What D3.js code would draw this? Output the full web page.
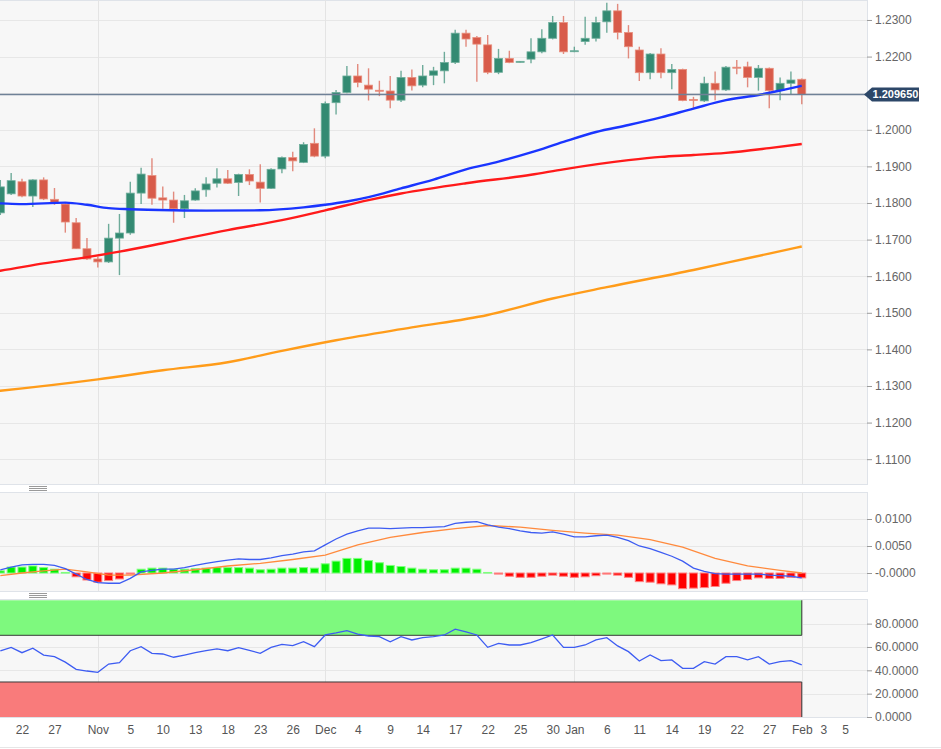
<!DOCTYPE html>
<html><head><meta charset="utf-8">
<script src="https://cdn.jsdelivr.net/npm/d3@7"></script>
<style>
body{margin:0;background:#fff;}
svg{display:block;font-family:"Liberation Sans",Arial,sans-serif;}
</style>
</head><body>
<svg id="c" width="941" height="749"></svg>
<script>
// ---------------- DATA ----------------
const dates = [
"2020-10-20","2020-10-21","2020-10-22","2020-10-23","2020-10-26","2020-10-27","2020-10-28","2020-10-29","2020-10-30",
"2020-11-02","2020-11-03","2020-11-04","2020-11-05","2020-11-06","2020-11-09","2020-11-10","2020-11-11","2020-11-12","2020-11-13",
"2020-11-16","2020-11-17","2020-11-18","2020-11-19","2020-11-20","2020-11-23","2020-11-24","2020-11-25","2020-11-26","2020-11-27","2020-11-30",
"2020-12-01","2020-12-02","2020-12-03","2020-12-04","2020-12-07","2020-12-08","2020-12-09","2020-12-10","2020-12-11",
"2020-12-14","2020-12-15","2020-12-16","2020-12-17","2020-12-18","2020-12-21","2020-12-22","2020-12-23","2020-12-24","2020-12-25",
"2020-12-28","2020-12-29","2020-12-30","2020-12-31","2021-01-01",
"2021-01-04","2021-01-05","2021-01-06","2021-01-07","2021-01-08","2021-01-11","2021-01-12","2021-01-13","2021-01-14","2021-01-15",
"2021-01-18","2021-01-19","2021-01-20","2021-01-21","2021-01-22","2021-01-25","2021-01-26","2021-01-27","2021-01-28","2021-01-29",
"2021-02-01"];
const axisDates = ["2020-10-19"].concat(dates, ["2021-02-02","2021-02-03","2021-02-04","2021-02-05"]);

const openP = [1.1773,1.1825,1.1858,1.1819,1.1863,1.1810,1.1797,1.1746,1.1675,
1.1647,1.1639,1.1704,1.1718,1.1827,1.1875,1.1814,1.1808,1.1784,1.1808,
1.1836,1.1854,1.1866,1.1856,1.1878,1.1857,1.1840,1.1893,1.1924,1.1911,1.1963,
1.1928,1.2074,1.2102,1.2147,1.2122,1.2108,1.2106,1.2081,1.2143,
1.2122,1.2149,1.2161,1.2184,1.2264,1.2252,1.2232,1.2157,1.2195,1.2185,
1.2193,1.2213,1.2250,1.2293,1.2214,
1.2241,1.2250,1.2295,1.2325,1.2266,1.2218,1.2156,1.2207,1.2156,1.2165,
1.2083,1.2079,1.2127,1.2109,1.2171,1.2172,1.2143,1.2168,1.2107,1.2127,
1.2138];
const highP = [1.1863,1.1882,1.1866,1.1865,1.1870,1.1841,1.1800,1.1759,1.1704,
1.1653,1.1743,1.1770,1.1858,1.1896,1.1922,1.1845,1.1831,1.1822,1.1840,
1.1870,1.1895,1.1890,1.1880,1.1892,1.1906,1.1895,1.1927,1.1940,1.1966,1.2004,
1.2077,1.2109,1.2174,1.2180,1.2168,1.2134,1.2147,1.2161,1.2165,
1.2177,1.2172,1.2213,1.2273,1.2273,1.2256,1.2259,1.2221,1.2216,1.2188,
1.2250,1.2275,1.2311,1.2311,1.2227,
1.2309,1.2309,1.2347,1.2344,1.2286,1.2227,1.2210,1.2223,1.2180,1.2167,
1.2090,1.2145,1.2159,1.2174,1.2191,1.2186,1.2177,1.2170,1.2143,1.2159,
1.2140];
const lowP = [1.1767,1.1822,1.1816,1.1789,1.1808,1.1795,1.1719,1.1674,1.1644,
1.1624,1.1636,1.1603,1.1713,1.1797,1.1795,1.1784,1.1746,1.1759,1.1806,
1.1817,1.1842,1.1852,1.1819,1.1849,1.1801,1.1838,1.1881,1.1887,1.1909,1.1925,
1.1922,1.2042,1.2100,1.2116,1.2080,1.2092,1.2059,1.2076,1.2107,
1.2116,1.2122,1.2127,1.2180,1.2227,1.2131,1.2152,1.2152,1.2182,1.2184,
1.2182,1.2209,1.2247,1.2207,1.2212,
1.2232,1.2241,1.2265,1.2247,1.2195,1.2133,1.2138,1.2141,1.2111,1.2078,
1.2056,1.2076,1.2081,1.2106,1.2152,1.2116,1.2107,1.2059,1.2081,1.2095,
1.2070];
const closeP = [1.1844,1.1861,1.1819,1.1863,1.1811,1.1799,1.1748,1.1675,1.1647,
1.1639,1.1704,1.1718,1.1827,1.1879,1.1813,1.1808,1.1784,1.1806,1.1833,
1.1852,1.1866,1.1854,1.1878,1.1860,1.1840,1.1892,1.1924,1.1915,1.1960,1.1928,
1.2072,1.2102,1.2147,1.2129,1.2111,1.2106,1.2081,1.2143,1.2120,
1.2147,1.2161,1.2184,1.2264,1.2248,1.2234,1.2157,1.2195,1.2184,1.2187,
1.2213,1.2250,1.2293,1.2213,1.2216,
1.2250,1.2293,1.2325,1.2266,1.2227,1.2156,1.2207,1.2156,1.2165,1.2080,
1.2080,1.2127,1.2109,1.2171,1.2169,1.2143,1.2168,1.2107,1.2127,1.2136,
1.20965];
const lastPrice = 1.20965;

// moving averages (values at sample dates)
const smaBlueDates = ["2020-10-19","2020-10-20","2020-10-22","2020-10-28","2020-10-30","2020-11-03","2020-11-05","2020-11-11","2020-11-16","2020-11-23","2020-11-27","2020-12-01","2020-12-03","2020-12-07","2020-12-10","2020-12-15","2020-12-18","2020-12-23","2020-12-28","2020-12-31","2021-01-05","2021-01-08","2021-01-13","2021-01-18","2021-01-21","2021-01-26","2021-01-28","2021-02-01"];
const smaBlueValues = [1.1800,1.1799,1.1797,1.1801,1.1795,1.1786,1.1783,1.1780,1.1779,1.1780,1.1788,1.1795,1.1804,1.1816,1.1840,1.1864,1.1892,1.1913,1.1938,1.1967,1.1994,1.2013,1.2034,1.2058,1.2081,1.2095,1.2107,1.2120];
const smaRedDates = ["2020-10-19","2020-10-20","2020-10-26","2020-10-30","2020-11-04","2020-11-10","2020-11-18","2020-11-25","2020-12-01","2020-12-07","2020-12-10","2020-12-18","2020-12-28","2020-12-31","2021-01-08","2021-01-13","2021-01-18","2021-01-21","2021-01-27","2021-02-01"];
const smaRedValues = [1.1611,1.1615,1.1635,1.1652,1.1667,1.1690,1.1726,1.1753,1.1780,1.1808,1.1826,1.1854,1.1877,1.1892,1.1917,1.1926,1.1931,1.1937,1.1950,1.1961];
const smaOrangeDates = ["2020-10-19","2020-10-20","2020-11-02","2020-11-10","2020-11-18","2020-11-25","2020-12-02","2020-12-11","2020-12-22","2020-12-30","2021-01-06","2021-01-18","2021-01-25","2021-02-01"];
const smaOrangeValues = [1.1284,1.1287,1.1318,1.1343,1.1365,1.1396,1.1425,1.1460,1.1494,1.1539,1.1570,1.1617,1.1649,1.1681];

// MACD
const macdHist = [0.0004,0.0011,0.0011,0.0013,0.0010,0.0007,0.0001,-0.0007,-0.0013,
-0.0017,-0.0014,-0.0011,-0.0002,0.0007,0.0009,0.0009,0.0007,0.0007,0.0008,
0.0009,0.0010,0.0010,0.0010,0.0009,0.0006,0.0007,0.0009,0.0009,0.0010,0.0009,
0.0017,0.0022,0.0027,0.0027,0.0023,0.0019,0.0014,0.0012,0.0009,
0.0007,0.0006,0.0006,0.0009,0.0009,0.0007,0.0001,-0.0002,-0.0006,-0.0008,
-0.0008,-0.0006,-0.0004,-0.0006,-0.0008,
-0.0007,-0.0005,-0.0002,-0.0004,-0.0008,-0.0016,-0.0017,-0.0020,-0.0022,-0.0029,
-0.0028,-0.0027,-0.0025,-0.0019,-0.0014,-0.0012,-0.0009,-0.0010,-0.0010,-0.0008,
-0.0009];
const macdLine = [0.0006,0.0011,0.0015,0.0016,0.0016,0.0014,0.0008,-0.0002,-0.0012,
-0.0018,-0.0019,-0.0019,-0.0010,0.0002,0.0005,0.0007,0.0007,0.0010,0.0014,
0.0018,0.0021,0.0024,0.0026,0.0025,0.0025,0.0028,0.0032,0.0035,0.0039,0.0041,
0.0052,0.0063,0.0072,0.0078,0.0083,0.0083,0.0082,0.0083,0.0084,
0.0084,0.0085,0.0086,0.0092,0.0094,0.0095,0.0089,0.0085,0.0082,0.0078,
0.0075,0.0074,0.0076,0.0072,0.0067,
0.0067,0.0069,0.0070,0.0066,0.0060,0.0050,0.0045,0.0038,0.0031,0.0022,
0.0009,0.0003,-0.0001,-0.0002,-0.0002,-0.0002,-0.0002,-0.0004,-0.0005,-0.0006,
-0.0009];
const signalDates = ["2020-10-20","2020-10-22","2020-10-26","2020-10-28","2020-10-30","2020-11-03","2020-11-05","2020-11-10","2020-11-13","2020-11-18","2020-11-23","2020-11-26","2020-12-01","2020-12-04","2020-12-09","2020-12-14","2020-12-17","2020-12-22","2020-12-25","2020-12-30","2021-01-04","2021-01-07","2021-01-12","2021-01-15","2021-01-20","2021-01-25","2021-01-28","2021-02-01"];
const signalValues = [-0.0005,0.0000,0.0004,0.0007,0.0002,-0.0004,-0.0004,0.0000,0.0006,0.0013,0.0018,0.0025,0.0033,0.0052,0.0066,0.0075,0.0082,0.0088,0.0085,0.0079,0.0074,0.0070,0.0062,0.0048,0.0027,0.0013,0.0005,0.0000];

// RSI
const rsi = [56.6,59.7,55.1,58.9,53.1,51.7,47.0,40.9,39.4,
38.3,45.4,46.5,56.8,60.3,54.6,54.0,51.2,53.1,55.1,
56.8,58.3,56.8,59.4,57.0,54.6,59.7,62.3,61.1,64.5,60.3,
70.3,72.0,74.0,71.1,69.4,68.9,64.5,68.9,66.0,
68.0,68.9,70.3,75.2,73.0,70.3,59.7,63.1,61.7,61.7,
63.7,66.9,70.3,59.7,59.7,
61.7,66.0,68.0,60.9,56.0,48.0,53.1,48.3,48.9,41.7,
41.7,47.4,45.4,51.7,51.7,48.9,51.7,45.4,47.4,48.3,
44.6];
const rsiUpper = 70, rsiLower = 30;

// ticks
const priceGrid = [1.11,1.12,1.13,1.14,1.15,1.16,1.17,1.18,1.19,1.20,1.21,1.22,1.23];
const priceTicks = [1.11,1.12,1.13,1.14,1.15,1.16,1.17,1.18,1.19,1.20,1.22,1.23]; // 1.2100 hidden by price label
const macdTicks = [0, 0.005, 0.01];
const macdTickLabels = ["-0.0000","0.0050","0.0100"];
const rsiTicks = [0,20,40,60,80];
const xTickDates = ["2020-10-22","2020-10-27","2020-11-02","2020-11-05","2020-11-10","2020-11-13","2020-11-18","2020-11-23","2020-11-26",
"2020-12-01","2020-12-04","2020-12-09","2020-12-14","2020-12-17","2020-12-22","2020-12-25","2020-12-30",
"2021-01-01","2021-01-06","2021-01-11","2021-01-14","2021-01-19","2021-01-22","2021-01-27","2021-02-01","2021-02-03","2021-02-05"];
const xTickLabels = ["22","27","Nov","5","10","13","18","23","26","Dec","4","9","14","17","22","25","30","Jan","6","11","14","19","22","27","Feb","3","5"];
const monthStarts = ["2020-11-02","2020-12-01","2021-01-01","2021-02-01"];

// ---------------- DRAW ----------------
const svg = d3.select("#c");
const R = 867;
const P = {main:[0,484], macd:[492,591], rsi:[599,717]};
const x = d3.scalePoint().domain(axisDates).range([-10.5, 845.07]);
const yP = d3.scaleLinear().domain([1.10322, 1.23546]).range([484, 0]);
const yM = d3.scaleLinear().domain([-0.0033333, 0.015]).range([591, 492]);
const yR = d3.scaleLinear().domain([0, 100]).range([717, 600.3]);

const GREEN = "#338a72", RED = "#d85b4a";
const defs = svg.append("defs");

function panel(name, top, bottom, yScale, ticks, fmt, gridTicks){
  defs.append("clipPath").attr("id","clip-"+name).append("rect")
    .attr("x",0).attr("y",top).attr("width",R).attr("height",bottom-top);
  svg.append("rect").attr("x",-1).attr("y",top+0.5).attr("width",R+1.5).attr("height",bottom-top)
    .attr("fill","#f7f7f7").attr("stroke","#dfe3e9").attr("stroke-width",1);
  const g = svg.append("g").attr("clip-path","url(#clip-"+name+")");
  g.selectAll("line.hg").data(gridTicks).join("line")
    .attr("x1",0).attr("x2",R).attr("y1",d=>Math.round(yScale(d))+0.5).attr("y2",d=>Math.round(yScale(d))+0.5)
    .attr("stroke","#e7e7e7").attr("stroke-width",1);
  g.selectAll("line.vg").data(monthStarts).join("line")
    .attr("x1",d=>Math.round(x(d))+0.5).attr("x2",d=>Math.round(x(d))+0.5).attr("y1",top).attr("y2",bottom)
    .attr("stroke","#e4e4e4").attr("stroke-width",1);
  const ax = d3.axisRight(yScale).tickValues(ticks).tickSize(5).tickPadding(3).tickFormat(fmt);
  const ag = svg.append("g").attr("transform","translate("+R+",0)").call(ax);
  ag.select(".domain").remove();
  ag.selectAll(".tick line").attr("stroke","#9a9a9a");
  ag.selectAll(".tick text").attr("fill","#666").style("font-size","12px").style("font-family","'Liberation Sans',Arial,sans-serif");
  return g;
}

// ---- main panel
const gm = panel("main", P.main[0], P.main[1], yP, priceTicks, d=>d.toFixed(4), priceGrid);
const candles = dates.map((d,i)=>({d, o:openP[i], h:highP[i], l:lowP[i], c:closeP[i]}));
gm.selectAll("line.wick").data(candles).join("line")
  .attr("x1",d=>x(d.d)).attr("x2",d=>x(d.d))
  .attr("y1",d=>yP(d.h)).attr("y2",d=>yP(d.l))
  .attr("stroke",d=>d.c>=d.o?GREEN:RED).attr("stroke-opacity",0.7).attr("stroke-width",1.4);
gm.selectAll("rect.body").data(candles).join("rect")
  .attr("x",d=>x(d.d)-4).attr("width",8)
  .attr("y",d=>yP(Math.max(d.o,d.c)))
  .attr("height",d=>Math.max(1, Math.abs(yP(d.o)-yP(d.c))))
  .attr("fill",d=>d.c>=d.o?GREEN:RED)
  .attr("stroke",d=>d.c>=d.o?"#6fae9c":"#e8907f").attr("stroke-width",0.8);

function maLine(ds, vs, color){
  const pts = ds.map((d,i)=>[x(d), yP(vs[i])]);
  gm.append("path").attr("d", d3.line().curve(d3.curveMonotoneX)(pts))
    .attr("fill","none").attr("stroke",color).attr("stroke-width",2.4).attr("stroke-linejoin","round");
}
maLine(smaOrangeDates, smaOrangeValues, "#ff9c1a");
maLine(smaRedDates, smaRedValues, "#ff1a1a");
maLine(smaBlueDates, smaBlueValues, "#1a35ff");

// current price line & label
const yl = yP(lastPrice);
svg.append("line").attr("x1",0).attr("x2",R).attr("y1",yl).attr("y2",yl)
  .attr("stroke","#6f8197").attr("stroke-width",1.5);
svg.append("path")
  .attr("d",`M${R-3},${yl} L${R+5},${yl-7} L${R+52},${yl-7} L${R+52},${yl+7} L${R+5},${yl+7} Z`)
  .attr("fill","#2c4768");
svg.append("text").attr("x",R+28.5).attr("y",yl+4).attr("text-anchor","middle")
  .attr("fill","#fff").style("font-size","11px").style("font-weight","bold").text(lastPrice.toFixed(6));

// ---- MACD panel
const gmacd = panel("macd", P.macd[0], P.macd[1], yM, macdTicks, (d,i)=>macdTickLabels[i], macdTicks);
const hist = dates.map((d,i)=>({d, v:macdHist[i]}));
gmacd.selectAll("rect.h").data(hist).join("rect")
  .attr("x",d=>x(d.d)-4).attr("width",8)
  .attr("y",d=>Math.min(yM(0), yM(d.v)))
  .attr("height",d=>Math.max(0.6, Math.abs(yM(d.v)-yM(0))))
  .attr("fill",d=>d.v>=0?"#00f000":"#ff0000")
  .attr("stroke",d=>d.v>=0?"#7dff7d":"#ff8080").attr("stroke-width",1);
gmacd.append("path")
  .attr("d", d3.line()(signalDates.map((d,i)=>[x(d), yM(signalValues[i])])))
  .attr("fill","none").attr("stroke","#ff8a3d").attr("stroke-width",1.3);
gmacd.append("path")
  .attr("d", d3.line()(dates.map((d,i)=>[x(d), yM(macdLine[i])])))
  .attr("fill","none").attr("stroke","#3d5cf2").attr("stroke-width",1.3);

// ---- RSI panel
const grsi = panel("rsi", P.rsi[0], P.rsi[1], yR, rsiTicks, d=>d.toFixed(4), [20,40,60,80]);
const zx0 = 0, zx1 = x(dates[dates.length-1]);
grsi.append("rect").attr("x",zx0-1).attr("y",yR(100)).attr("width",zx1-zx0+1).attr("height",yR(rsiUpper)-yR(100))
  .attr("fill","#7ef97e");
grsi.append("rect").attr("x",zx0-1).attr("y",yR(rsiLower)).attr("width",zx1-zx0+1).attr("height",yR(0)-yR(rsiLower))
  .attr("fill","#f97b7b");
grsi.append("path").attr("d",`M0,${yR(rsiUpper)} H${zx1} V${yR(100)}`).attr("fill","none").attr("stroke","#3a3a3a").attr("stroke-width",1);
grsi.append("path").attr("d",`M0,${yR(rsiLower)} H${zx1} V${yR(0)}`).attr("fill","none").attr("stroke","#3a3a3a").attr("stroke-width",1);
grsi.append("path")
  .attr("d", d3.line()(dates.map((d,i)=>[x(d), yR(rsi[i])])))
  .attr("fill","none").attr("stroke","#3d5cf2").attr("stroke-width",1.3);

// ---- x axis
const xa = d3.axisBottom(x).tickValues(xTickDates).tickFormat((d,i)=>xTickLabels[i]).tickSize(0).tickPadding(8);
const xg = svg.append("g").attr("transform","translate(0,717)").call(xa);
xg.select(".domain").remove();
xg.selectAll(".tick text").attr("fill","#555").style("font-size","12px").style("font-family","'Liberation Sans',Arial,sans-serif");

// handles between panels
[486.5, 593.5].forEach(y0=>{
  [0,2,4].forEach(o=>svg.append("line").attr("x1",29).attr("x2",47).attr("y1",y0+o).attr("y2",y0+o)
    .attr("stroke","#9a9a9a").attr("stroke-width",1));
});
svg.append("line").attr("x1",0).attr("x2",941).attr("y1",747.5).attr("y2",747.5).attr("stroke","#e6e6e6");
</script>
</body></html>
